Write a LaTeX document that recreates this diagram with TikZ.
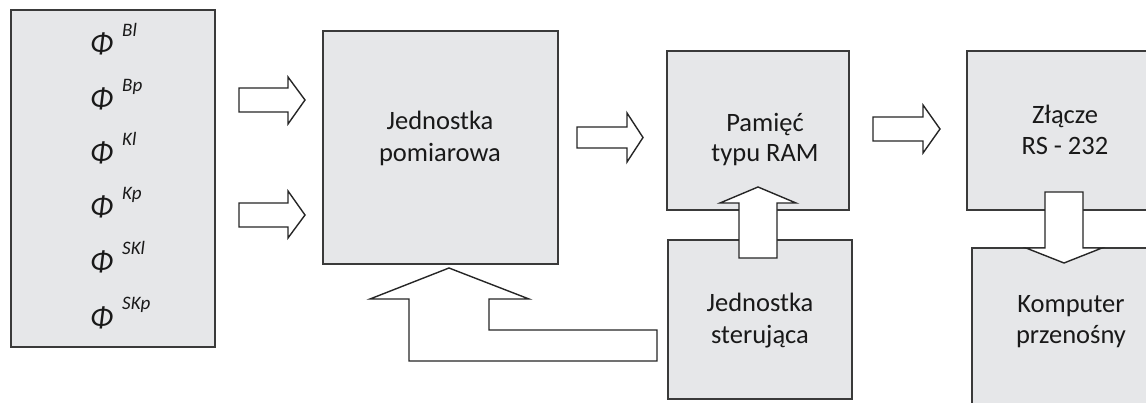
\documentclass[tikz,border=0pt]{standalone}
\usepackage{fontspec}
\setmainfont{Carlito}
\definecolor{boxfill}{HTML}{E6E7E9}
\definecolor{boxline}{HTML}{3A3A3A}
\begin{document}
\begin{tikzpicture}[x=1pt,y=-1pt,
  box/.style={draw=boxline, line width=1.4pt, fill=boxfill, rectangle, inner sep=0pt},
  fat/.style={draw=black!85, line width=1.4pt, fill=white, line join=miter},
  lbl/.style={anchor=base, inner sep=0pt, font=\fontsize{26.5}{31}\selectfont, text=black!90},
  phi/.style={anchor=base west, inner sep=0pt, font=\fontsize{30}{30}\selectfont\itshape, text=black!90},
  sup/.style={anchor=base west, inner sep=0pt, font=\fontsize{19}{19}\selectfont\itshape, text=black!90}]
\useasboundingbox (0,0) rectangle (1146,403);
\clip (0,0) rectangle (1146,403);
% boxes
\node[box, minimum width=204pt, minimum height=337pt] (inp) at (113,178.5) {};
\node[box, minimum width=235pt, minimum height=233pt] (meas) at (440.5,147.5) {};
\node[box, minimum width=182pt, minimum height=159pt] (ram) at (758,130.5) {};
\node[box, minimum width=184pt, minimum height=159pt] (ctrl) at (760,319.5) {};
\node[box, minimum width=203pt, minimum height=159pt] (rs) at (1068.5,130.5) {};
\node[box, minimum width=198pt, minimum height=172pt] (pc) at (1071,334) {};
% Phi labels
\foreach \i/\s/\b in {1/Bl/54,2/Bp/109,3/Kl/163,4/Kp/217,5/SKl/272,6/SKp/327}{
  \node[phi] (phi\i) at (90,\b) {Φ};
  \node[sup] (sup\i) at (122,\b-17) {\s};
}
% texts
\node[lbl] (t1a) at (440,130) {Jednostka};
\node[lbl] (t1b) at (440,162) {pomiarowa};
\node[lbl] (t2a) at (765,132) {Pamięć};
\node[lbl] (t2b) at (765,162) {typu RAM};
\node[lbl] (t3a) at (1065,124) {Złącze};
\node[lbl] (t3b) at (1065,155) {RS - 232};
\node[lbl] (t4a) at (760,312) {Jednostka};
\node[lbl] (t4b) at (760,343) {sterująca};
\node[lbl] (t5a) at (1071,313) {Komputer};
\node[lbl] (t5b) at (1071,343) {przenośny};
% block arrows
\draw[fat] (239,88) -- (288,88) -- (288,77) -- (305,100) -- (288,124) -- (288,112) -- (239,112) -- cycle;
\draw[fat] (239,203) -- (288,203) -- (288,191) -- (305,215) -- (288,238) -- (288,227) -- (239,227) -- cycle;
\draw[fat] (577,127) -- (627,127) -- (627,113) -- (643,137.5) -- (627,162) -- (627,148) -- (577,148) -- cycle;
\draw[fat] (873,117) -- (923,117) -- (923,105) -- (940,129) -- (923,153) -- (923,141) -- (873,141) -- cycle;
\draw[fat] (739,258) -- (739,203) -- (720,203) -- (758,187) -- (796,203) -- (777,203) -- (777,258) -- cycle;
\draw[fat] (1045,192) -- (1045,248) -- (1026,248) -- (1064,263) -- (1102,248) -- (1083,248) -- (1083,192) -- cycle;
\draw[fat] (657,330) -- (489,330) -- (489,299) -- (529,299) -- (449,268) -- (370,299) -- (409,299) -- (409,361) -- (657,361) -- cycle;
\end{tikzpicture}
\end{document}
